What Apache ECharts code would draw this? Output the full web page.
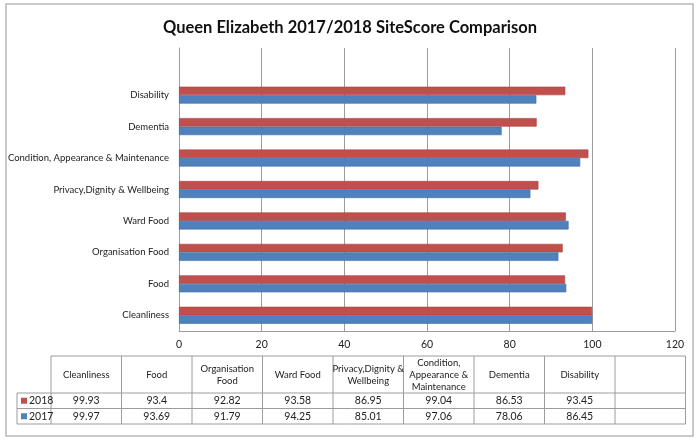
<!DOCTYPE html>
<html>
<head>
<meta charset="utf-8">
<script src="https://cdn.jsdelivr.net/npm/echarts@6/dist/echarts.min.js"></script>
<style>
html,body{margin:0;padding:0;background:#fff;}
#chart{width:700px;height:440px;}
</style>
</head>
<body>
<div id="chart"></div>
<script>
const categories = ['Cleanliness','Food','Organisation Food','Ward Food','Privacy,Dignity & Wellbeing','Condition, Appearance & Maintenance','Dementia','Disability',''];
const tableHeaders = ['Cleanliness','Food','Organisation\nFood','Ward Food','Privacy,Dignity &\nWellbeing','Condition,\nAppearance &\nMaintenance','Dementia','Disability',''];
const values2018 = [99.93, 93.4, 92.82, 93.58, 86.95, 99.04, 86.53, 93.45];
const values2017 = [99.97, 93.69, 91.79, 94.25, 85.01, 97.06, 78.06, 86.45];
const seriesNames = ['2018','2017'];
const seriesColors = ['#C0504D','#4F81BD'];
const xTicks = [0,20,40,60,80,100,120];

const FONT = 'Lato, "Open Sans", sans-serif';
const chart = echarts.init(document.getElementById('chart'), null, {renderer:'canvas'});

// data table graphic
const g = [];
const lineColor = '#9c9c9c';
const tx0 = 51, colW = 70.5, nCols = tableHeaders.length;
const tx1 = tx0 + colW * nCols;
const legX = 17;
const yHead = 356, yR1 = 393, yR2 = 408.5, yEnd = 424;
function hline(x1,x2,y){g.push({type:'line',shape:{x1:x1,y1:y,x2:x2,y2:y},style:{stroke:lineColor,lineWidth:1},silent:true});}
function vline(x,y1,y2){g.push({type:'line',shape:{x1:x,y1:y1,x2:x,y2:y2},style:{stroke:lineColor,lineWidth:1},silent:true});}
hline(tx0,tx1,yHead); hline(legX,tx1,yR1); hline(legX,tx1,yR2); hline(legX,tx1,yEnd);
vline(legX,yR1,yEnd);
for(let i=0;i<=nCols;i++){ vline(tx0+i*colW,yHead,yEnd); }
tableHeaders.forEach((h,i)=>{
  g.push({type:'text',x:tx0+colW*(i+0.5),y:(yHead+yR1)/2,style:{text:h,fill:'#222',font:'9.5px '+FONT,align:'center',verticalAlign:'middle',lineHeight:12},silent:true});
});
const rowsData = [values2018, values2017];
const rowTops = [yR1, yR2];
const rowBots = [yR2, yEnd];
rowsData.forEach((arr,r)=>{
  const cy = (rowTops[r]+rowBots[r])/2;
  g.push({type:'rect',shape:{x:legX+4,y:cy-3,width:6,height:6},style:{fill:seriesColors[r]},silent:true});
  g.push({type:'text',x:legX+12,y:cy,style:{text:seriesNames[r],fill:'#222',font:'10.5px '+FONT,align:'left',verticalAlign:'middle'},silent:true});
  arr.forEach((v,i)=>{
    g.push({type:'text',x:tx0+colW*(i+0.5),y:cy,style:{text:String(v),fill:'#222',font:'10.5px '+FONT,align:'center',verticalAlign:'middle'},silent:true});
  });
});
// outer border
g.push({type:'rect',shape:{x:6,y:4,width:687,height:432},style:{fill:'none',stroke:'#b8b8b8',lineWidth:1.5},silent:true,z:-1});

const option = {
  backgroundColor:'#fff',
  animation:false,
  title:{
    text:'Queen Elizabeth 2017/2018 SiteScore Comparison',
    left:'center', top:14,
    textStyle:{fontFamily:FONT,fontWeight:'bold',fontSize:16.5,color:'#111'}
  },
  grid:{left:179,right:25,top:48,bottom:109,containLabel:false,outerBoundsMode:'none'},
  xAxis:{
    type:'value',min:0,max:120,interval:20,
    axisLine:{show:true,lineStyle:{color:'#9c9c9c'}},
    axisTick:{show:false},
    axisLabel:{color:'#222',fontFamily:FONT,fontSize:10.5,margin:8,
      formatter:function(v){return xTicks.indexOf(v)>=0?String(v):'';}},
    splitLine:{show:true,lineStyle:{color:'#9c9c9c',width:1}}
  },
  yAxis:{
    type:'category',data:categories,
    axisLine:{show:true,lineStyle:{color:'#9c9c9c'}},
    axisTick:{show:false},
    axisLabel:{color:'#222',fontFamily:FONT,fontSize:9.5,margin:10}
  },
  series:[
    {name:seriesNames[0],type:'bar',data:values2018,barGap:'0%',barCategoryGap:'46%',
     itemStyle:{color:seriesColors[0],borderColor:'#A8403D',borderWidth:0.6}},
    {name:seriesNames[1],type:'bar',data:values2017,barGap:'0%',barCategoryGap:'46%',
     itemStyle:{color:seriesColors[1],borderColor:'#3C6BA5',borderWidth:0.6}}
  ],
  graphic:g
};
chart.setOption(option);
</script>
</body>
</html>
